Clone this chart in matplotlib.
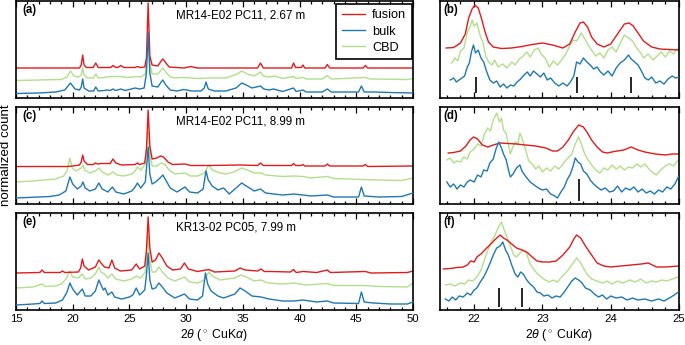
import matplotlib
matplotlib.use("Agg")
import matplotlib.pyplot as plt
from matplotlib.ticker import MultipleLocator

plt.rcParams['font.family'] = ['Liberation Sans', 'DejaVu Sans']
plt.rcParams['mathtext.fontset'] = 'custom'
plt.rcParams['mathtext.rm'] = 'Liberation Sans'
plt.rcParams['mathtext.it'] = 'Liberation Sans:italic'

# ---------------- data (2theta in degrees, normalized count) ----------------
series_names = ['fusion', 'bulk', 'CBD']
sample_titles = ['MR14-E02 PC11, 2.67 m', 'MR14-E02 PC11, 8.99 m', 'KR13-02 PC05, 7.99 m']
left_labels = ['(a)', '(c)', '(e)']
right_labels = ['(b)', '(d)', '(f)']

a_fusion = [(15,30),(20.6,30),(20.75,33),(20.88,43),(21.0,33),(21.2,30.5),(21.8,30.5),(22.03,35),(22.25,30.5),
            (23.35,30.5),(23.55,32.5),(23.8,30.5),(24.05,31),(24.25,32.5),(24.5,30.5),(25.5,30.5),(25.7,31.5),
            (25.95,30.5),(26.35,31),(26.5,40),(26.65,95),(26.8,42),(27.0,33),(27.5,32),(27.8,37),(27.95,39),
            (28.15,36),(28.5,31),(29.8,30),(30.4,31.5),(31.0,30),(36.3,30),(36.55,35),(36.8,30),(39.3,30),
            (39.47,35),(39.65,30.5),(40.15,30.5),(40.3,33),(40.45,30),(42.25,30),(42.45,33.5),(42.65,30),
            (45.6,30),(45.8,32.5),(46.0,30),(50,30)]
a_bulk = [(15,4.5),(17,5),(18.5,6),(19.3,8),(19.8,15),(20.2,9),(20.6,8),(20.75,11),(20.88,19),(21.0,10),(21.4,7),
          (21.85,7),(22.03,11),(22.25,7),(22.8,7.5),(23.0,8),(23.3,7.5),(23.55,9),(23.8,7.5),(24.25,9),(24.6,7.5),
          (25.0,8.5),(25.5,10),(25.9,9),(26.3,10),(26.5,25),(26.65,66),(26.8,25),(27.0,12),(27.5,11),(27.8,16),
          (27.95,18),(28.2,13),(28.6,8),(29.2,7),(29.8,8.5),(30.5,7),(31.3,7),(31.6,10),(31.75,16),(31.95,9),
          (32.5,7),(33.5,7),(34.4,10),(34.9,15),(35.3,13),(35.8,10),(36.55,12),(36.85,9),(37.3,8),(37.7,9),
          (38.5,6.5),(39.47,10),(39.7,6.5),(40.3,8),(40.6,6),(42.0,6),(42.45,9),(42.8,6),(45.2,6),(45.45,12),
          (45.7,6),(46.5,6),(48,5.5),(50,5)]
a_cbd = [(15,17.5),(17,18),(19.0,18.5),(19.5,21),(19.8,27),(20.1,22),(20.5,21),(20.75,23),(20.88,30),(21.0,23),
         (21.3,20),(21.85,20),(22.03,24),(22.25,20),(22.8,20.5),(23.0,21),(23.55,21.5),(24.25,21.5),(24.8,20.5),
         (25.3,21),(25.6,21.5),(26.0,21),(26.4,24),(26.55,45),(26.65,62),(26.8,35),(27.0,24),(27.5,24),(27.8,28),
         (27.95,30),(28.2,26),(28.6,21),(29.0,20),(29.7,20.5),(30.5,20),(31.0,19.5),(32.0,20),(33.5,20),(34.5,24),
         (34.9,27),(35.4,24),(36.0,22),(36.55,26),(36.8,22),(37.3,21),(37.8,22),(38.5,19.5),(39.47,21.5),
         (39.7,19.5),(40.3,20.5),(40.6,19),(42.0,19),(42.45,22.5),(42.8,19),(45.8,20.5),(46.2,19),(49.5,18.5),
         (50,19.5)]

c_fusion = [(15,37.5),(19.5,37.5),(20.0,38),(20.6,39),(20.75,42),(20.88,49),(21.0,43),(21.3,39.5),(21.8,39.5),
            (22.0,41),(22.2,40),(22.5,40.5),(23.3,40.5),(23.55,45),(23.8,41),(24.3,39),(25.5,39.5),(25.7,41),
            (25.9,39.5),(26.35,41),(26.5,55),(26.65,94),(26.8,58),(27.0,45),(27.4,46),(27.75,48),(28.0,47),
            (28.4,42),(28.8,39.5),(29.9,40),(30.4,38.5),(32,38.5),(34.8,39),(36.3,38.5),(36.55,41),(36.8,38.5),
            (39.3,38.5),(39.47,40.5),(39.65,38.5),(40.15,38.5),(40.3,39.5),(40.45,38),(42.25,38),(42.45,40),
            (42.65,38),(45.6,38),(45.8,39.5),(46.0,37.5),(50,38)]
c_bulk = [(15,6),(16,6.5),(17,7),(18,7.5),(18.8,9),(19.4,13),(19.75,27),(20.0,20),(20.4,15),(20.75,18),(20.9,22),
          (21.1,16),(21.5,13),(22.0,15),(22.3,21),(22.6,15),(23.1,12),(23.5,17),(23.8,12),(24.5,10),(25.2,13),
          (25.5,17),(25.7,21),(26.0,16),(26.4,22),(26.55,42),(26.65,57),(26.8,30),(27.0,20),(27.3,22),(27.7,26),
          (27.95,29),(28.2,24),(28.6,16),(29.2,12),(29.9,17),(30.3,12),(31.0,11),(31.5,15),(31.75,33),(31.95,24),
          (32.3,18),(32.8,14),(33.3,16),(33.8,10),(34.4,16),(34.9,21),(35.3,18),(36.0,13),(36.55,15),(37.0,11),
          (38.5,9),(39.5,10),(40.3,9),(41,8),(42.45,9),(43,7),(45.2,7),(45.45,17),(45.7,8),(47,7),(49,7.5),
          (50,11)]
c_cbd = [(15,22),(16.5,23),(17.5,24),(18.5,25),(19.2,28),(19.5,33),(19.75,46),(19.95,36),(20.3,33),(20.75,36),
         (20.9,39),(21.05,34),(21.5,31),(22.0,33),(22.3,36),(22.6,32),(23.1,29),(23.55,32),(23.9,29),(24.5,28),
         (25.2,30),(25.5,33),(25.7,37),(26.0,34),(26.4,40),(26.55,60),(26.65,72),(26.8,50),(27.0,38),(27.4,38),
         (27.8,41),(28.1,40),(28.5,34),(29.0,30),(29.9,31),(30.4,28),(31.0,28),(31.6,31),(32.0,39),(32.3,34),
         (33.0,31),(33.5,30),(34.2,32),(34.9,36),(35.4,34),(36.0,31),(36.6,31),(37.0,29),(38.5,27.5),(39.5,28),
         (40.3,27.5),(41,26),(42.45,27.5),(43,25.5),(45.5,24.5),(47,24),(49,23.5),(50,26)]

e_fusion = [(15,37),(17.1,37.5),(17.3,40),(17.5,37.5),(18.9,37.5),(19.1,39),(19.3,37.5),(20.5,38),(20.7,42),
            (20.85,51),(21.0,44),(21.4,40),(22.0,43),(22.3,50),(22.5,47),(22.8,43),(23.2,42),(23.45,50),(23.7,42),
            (24.2,39),(25.2,40),(25.6,46),(25.9,41),(26.35,44),(26.5,60),(26.65,93),(26.8,62),(27.0,48),(27.3,50),
            (27.6,57),(27.9,52),(28.3,44),(28.8,40),(29.5,41),(29.85,47),(30.2,41),(31,38.5),(32,40.5),(32.5,38),
            (34.3,39),(34.75,42),(35.2,40),(36.3,39),(36.6,41),(36.9,38.5),(37.5,38.5),(39.2,38),(39.47,40.5),
            (39.7,37.5),(40.3,38.5),(41.5,37.5),(42.45,40),(42.7,37.5),(45.8,38.5),(46.3,37),(49.5,37.5),(50,39)]
e_bulk = [(15,5),(16.5,6),(17.1,6.5),(17.3,9),(17.5,6.5),(18.5,7),(19.1,10),(19.5,18),(19.75,27),(20.0,21),
          (20.4,15),(20.85,21),(21.1,14),(21.6,14),(22.0,19),(22.3,30),(22.5,25),(22.7,20),(22.85,22),(23.1,15),
          (23.45,18),(23.7,13),(24.3,11),(25.0,13),(25.3,15),(25.6,22),(25.9,15),(26.35,20),(26.5,35),(26.65,57),
          (26.8,30),(27.0,21),(27.3,22),(27.6,27),(27.9,23),(28.3,17),(29.0,12),(29.85,16),(30.3,11),(31.0,10),
          (31.45,14),(31.7,37),(31.9,26),(32.2,19),(32.8,14),(33.3,12),(34.3,16),(34.75,22),(35.2,19),(35.8,14),
          (36.6,13),(37.3,11),(38.5,9),(39.5,9),(40.3,10),(41.5,8),(42.45,9),(43,7),(45.2,6.5),(45.45,18),
          (45.7,8),(46.5,7),(48,6),(49.5,6),(50,8)]
e_cbd = [(15,22),(16.5,23),(17.3,26),(17.6,23.5),(18.5,24),(19.0,26),(19.4,31),(19.75,39),(20.0,33),(20.5,32),
         (20.85,36),(21.1,31),(21.6,32),(22.0,36),(22.3,43),(22.5,38),(22.8,36),(23.1,32),(23.45,36),(23.8,31),
         (24.5,29),(25.2,31),(25.6,34),(26.0,32),(26.4,38),(26.55,58),(26.65,75),(26.8,50),(27.0,38),(27.3,38),
         (27.6,43),(27.9,38),(28.4,32),(29.0,29),(29.85,33),(30.3,28),(31.0,27),(31.6,30),(32.0,38),(32.3,34),
         (33.0,30),(34.3,32),(34.8,35),(35.3,33),(36.0,29),(36.6,30),(37.2,27),(38.5,26),(39.5,27),(40.5,25),
         (42.45,26.5),(43,24.5),(45.8,24.5),(47,23.5),(49.5,23),(50,27)]

b_fusion = [(21.59,50),(21.7,50.5),(21.8,55),(21.87,64),(21.92,80),(21.97,89),(22.01,93),(22.06,90),(22.11,79),
            (22.16,66),(22.21,56),(22.28,51),(22.4,49.5),(22.55,50),(22.7,51.5),(22.85,53.5),(23.0,55),(23.15,53),
            (23.3,50),(23.4,54),(23.48,66),(23.55,75),(23.6,76),(23.66,71),(23.72,61),(23.8,54),(23.9,51),(24.0,54),
            (24.1,64),(24.2,74),(24.27,75),(24.33,72),(24.4,65),(24.48,57),(24.6,51),(24.72,49),(24.85,48.5),(25.0,48)]
b_bulk = [(21.65,18),(21.7,20),(21.74,16),(21.8,19),(21.86,22),(21.9,31),(21.93,35),(21.96,46),(21.99,53),(22.02,45),
          (22.06,48),(22.1,40),(22.14,36),(22.18,27),(22.23,18),(22.28,15),(22.33,17),(22.38,11),(22.43,14),
          (22.48,10),(22.53,13),(22.58,12),(22.63,16),(22.68,19),(22.73,23),(22.78,26),(22.82,22),(22.87,27),
          (22.92,24),(22.97,21),(23.02,25),(23.07,18),(23.12,20),(23.18,15),(23.24,12),(23.3,15),(23.36,12),
          (23.41,16),(23.46,22),(23.5,36),(23.55,34),(23.6,40),(23.65,36),(23.7,33),(23.75,29),(23.8,31),(23.85,26),
          (23.9,23),(23.96,27),(24.02,22),(24.08,30),(24.14,35),(24.2,38),(24.26,43),(24.3,39),(24.35,36),(24.4,33),
          (24.45,27),(24.5,20),(24.55,18),(24.6,21),(24.66,15),(24.72,17),(24.78,14),(24.84,19),(24.9,22),(24.95,20),
          (25.0,21)]
b_cbd = [(21.67,35),(21.72,40),(21.76,37),(21.8,47),(21.85,50),(21.9,66),(21.95,73),(21.97,78),(22.0,72),(22.04,75),
         (22.09,62),(22.13,55),(22.17,42),(22.21,36),(22.26,33),(22.3,38),(22.35,31),(22.42,34),(22.48,30),(22.55,36),
         (22.6,33),(22.66,39),(22.72,42),(22.77,46),(22.82,41),(22.88,48),(22.94,50),(22.98,44),(23.04,40),(23.1,31),
         (23.16,37),(23.22,33),(23.28,38),(23.34,44),(23.4,52),(23.45,58),(23.5,57),(23.57,65),(23.62,59),(23.68,52),
         (23.73,47),(23.78,42),(23.84,45),(23.9,40),(23.96,48),(24.02,51),(24.08,46),(24.14,55),(24.2,63),(24.26,60),
         (24.32,57),(24.38,50),(24.44,45),(24.48,40),(24.55,44),(24.62,38),(24.68,42),(24.74,46),(24.8,41),(24.86,47),
         (24.92,44),(24.97,49),(25.0,47)]

d_fusion = [(21.62,51),(21.7,51.5),(21.8,53),(21.88,58),(21.94,64),(21.99,67),(22.05,65),(22.12,59),(22.2,57),
            (22.28,59),(22.38,61),(22.5,60.5),(22.62,60),(22.75,59),(22.9,58),(23.05,56),(23.15,53),(23.22,53),
            (23.3,57),(23.38,64),(23.45,72),(23.53,79),(23.6,77),(23.66,71),(23.72,64),(23.8,57),(23.88,52),(23.95,51),
            (24.05,52.5),(24.19,54),(24.3,57),(24.4,54),(24.5,52),(24.65,50),(24.8,49),(24.9,50),(25.0,50)]
d_bulk = [(21.6,22),(21.65,17),(21.7,20),(21.75,15),(21.8,19),(21.85,17),(21.9,22),(21.94,24),(22.0,22),(22.05,29),
          (22.1,27),(22.14,34),(22.19,33),(22.23,41),(22.28,45),(22.32,55),(22.36,62),(22.4,56),(22.43,50),(22.47,44),
          (22.5,35),(22.53,27),(22.57,30),(22.62,36),(22.67,39),(22.7,33),(22.75,28),(22.82,22),(22.88,19),(22.94,16),
          (23.0,14),(23.06,15),(23.12,10),(23.18,8),(23.22,6),(23.27,12),(23.32,17),(23.36,24),(23.41,30),(23.45,38),
          (23.48,46),(23.52,42),(23.56,40),(23.6,33),(23.65,30),(23.7,24),(23.75,20),(23.8,17),(23.86,14),(23.92,16),
          (23.98,12),(24.04,13),(24.1,18),(24.16,12),(24.22,16),(24.28,14),(24.34,17),(24.4,12),(24.46,15),(24.52,11),
          (24.58,13),(24.64,10),(24.7,14),(24.76,12),(24.82,17),(24.88,15),(24.94,20),(24.99,27)]
d_cbd = [(21.6,44),(21.65,46),(21.7,41),(21.75,43),(21.8,42),(21.85,47),(21.9,45),(21.94,52),(22.0,55),(22.05,60),
         (22.1,58),(22.15,70),(22.2,76),(22.24,73),(22.28,84),(22.33,91),(22.37,82),(22.4,86),(22.43,74),(22.47,70),
         (22.5,60),(22.53,50),(22.56,56),(22.6,62),(22.64,60),(22.67,71),(22.71,64),(22.75,55),(22.8,43),(22.85,40),
         (22.9,35),(22.95,38),(23.0,32),(23.06,36),(23.12,33),(23.18,38),(23.24,35),(23.3,40),(23.36,45),(23.43,50),
         (23.48,60),(23.53,67),(23.57,60),(23.62,50),(23.67,44),(23.72,39),(23.78,34),(23.84,31),(23.9,36),(23.96,34),
         (24.02,39),(24.08,35),(24.14,38),(24.2,34),(24.26,37),(24.32,36),(24.38,40),(24.44,37),(24.5,40),(24.56,35),
         (24.62,31),(24.67,29),(24.73,34),(24.8,38),(24.86,40),(24.92,38),(24.99,44)]

f_fusion = [(21.55,41),(21.65,41.5),(21.75,42.5),(21.84,43),(21.9,45),(21.95,49),(22.0,48),(22.04,53),(22.1,56),
            (22.17,61),(22.23,65),(22.3,70),(22.38,75),(22.43,72),(22.48,70),(22.55,66),(22.62,62),(22.7,60),
            (22.77,58),(22.85,53),(22.92,49),(23.0,48),(23.1,48),(23.2,49),(23.3,55),(23.4,63),(23.46,71),(23.5,75),
            (23.56,72),(23.63,64),(23.72,55),(23.8,47),(23.9,44),(24.0,43),(24.15,44),(24.3,45),(24.45,46),(24.55,47),
            (24.67,43),(24.8,43),(24.9,43.5),(25.0,44)]
f_bulk = [(21.58,11),(21.63,9),(21.68,13),(21.73,10),(21.78,14),(21.84,13),(21.9,17),(21.95,15),(22.0,20),(22.04,22),
          (22.09,28),(22.14,33),(22.19,40),(22.24,48),(22.28,55),(22.33,62),(22.38,64),(22.42,68),(22.46,60),(22.5,55),
          (22.55,45),(22.6,36),(22.64,33),(22.68,38),(22.72,36),(22.77,30),(22.82,26),(22.87,23),(22.92,18),(22.97,17),
          (23.02,14),(23.08,15),(23.14,12),(23.2,14),(23.26,13),(23.32,18),(23.38,24),(23.43,29),(23.48,32),(23.53,30),
          (23.58,27),(23.63,22),(23.7,20),(23.76,16),(23.82,13),(23.88,15),(23.94,11),(24.0,14),(24.08,12),(24.16,13),
          (24.24,10),(24.32,12),(24.4,10),(24.5,11),(24.6,9),(24.7,11),(24.78,9),(24.86,12),(24.93,15),(24.99,18)]
f_cbd = [(21.58,25),(21.65,26),(21.72,24),(21.8,27),(21.86,26),(21.92,30),(21.98,29),(22.04,33),(22.1,40),(22.15,50),
         (22.2,60),(22.25,68),(22.3,74),(22.35,82),(22.4,88),(22.44,80),(22.48,73),(22.53,64),(22.58,55),(22.62,53),
         (22.67,57),(22.72,60),(22.77,56),(22.82,46),(22.88,40),(22.93,36),(22.98,33),(23.04,30),(23.1,28),(23.16,30),
         (23.22,28),(23.28,33),(23.34,37),(23.4,42),(23.46,48),(23.5,52),(23.55,48),(23.6,42),(23.66,35),(23.72,31),
         (23.8,29),(23.88,27),(23.95,29),(24.02,26),(24.1,29),(24.18,27),(24.28,30),(24.36,28),(24.44,31),(24.52,27),
         (24.6,29),(24.67,28),(24.75,30),(24.82,29),(24.9,31),(24.99,33)]

# reference peak markers in zoomed panels
b_marks = [22.03, 23.51, 24.30]
d_marks = [23.54]
f_marks = [22.37, 22.70]

# ---------------- figure ----------------
colors = {'fusion': '#e31a1c', 'bulk': '#1f78b4', 'CBD': '#b2df8a'}
zorders = {'fusion': 2, 'bulk': 3, 'CBD': 1}
W, H = 685, 345
fig = plt.figure(figsize=(W / 100, H / 100), dpi=100)

rows_px = [(1, 98), (107, 204), (213, 310)]
left_px = (16, 413)
right_px = (440, 679)

def add_ax(xpx, ypx):
    return fig.add_axes([xpx[0] / W, 1 - ypx[1] / H, (xpx[1] - xpx[0]) / W, (ypx[1] - ypx[0]) / H])

left_data = [(a_fusion, a_bulk, a_cbd), (c_fusion, c_bulk, c_cbd), (e_fusion, e_bulk, e_cbd)]
right_data = [(b_fusion, b_bulk, b_cbd), (d_fusion, d_bulk, d_cbd), (f_fusion, f_bulk, f_cbd)]
marks = [b_marks, d_marks, f_marks]
mark_span = [(5, 21), (3, 25), (3, 22)]

FS_TICK = 8.2
FS_TITLE = 8.4
FS_PANEL = 8.3
FS_LEG = 9.2
FS_XLAB = 8.8
FS_YLAB = 9.6
xlab = r'2$\theta$ ($^\circ$ CuK$\alpha$)'

def style(ax, bottom, major, minor):
    ax.set_yticks([])
    ax.xaxis.set_major_locator(MultipleLocator(major))
    ax.xaxis.set_minor_locator(MultipleLocator(minor))
    ax.tick_params(axis='x', which='both', direction='in', top=True, bottom=True,
                   labelbottom=bottom, labelsize=FS_TICK, pad=3, width=0.9)
    ax.tick_params(axis='x', which='major', length=4)
    ax.tick_params(axis='x', which='minor', length=2.2)
    for s in ax.spines.values():
        s.set_linewidth(1.2)
    ax.set_ylim(0, 97)

for i in range(3):
    axl = add_ax(left_px, rows_px[i])
    lines = []
    for name, dat in zip(series_names, left_data[i]):
        xs, ys = zip(*dat)
        ln, = axl.plot(xs, ys, color=colors[name], lw=1.0, zorder=zorders[name], label=name)
        lines.append(ln)
    axl.set_xlim(15, 50)
    style(axl, i == 2, 5, 1)
    axl.text(0.015, 0.905, left_labels[i], transform=axl.transAxes, fontsize=FS_PANEL, fontweight='bold',
             va='center', ha='left')
    axl.text(0.402, 0.85, sample_titles[i], transform=axl.transAxes, fontsize=FS_TITLE, va='center', ha='left')
    if i == 0:
        leg = axl.legend(handles=lines, loc='upper right', bbox_to_anchor=(0.997, 0.968), borderaxespad=0,
                         fontsize=FS_LEG, frameon=True, fancybox=False, framealpha=1, edgecolor='black',
                         handlelength=1.85, handletextpad=0.55, labelspacing=0.32, borderpad=0.42)
        leg.get_frame().set_linewidth(1.2)
    if i == 2:
        axl.set_xlabel(xlab, fontsize=FS_XLAB, labelpad=2)

    axr = add_ax(right_px, rows_px[i])
    for name, dat in zip(series_names, right_data[i]):
        xs, ys = zip(*dat)
        axr.plot(xs, ys, color=colors[name], lw=1.0, zorder=zorders[name])
    axr.vlines(marks[i], mark_span[i][0], mark_span[i][1], color='black', lw=1.2, zorder=4)
    axr.set_xlim(21.5, 25.0)
    style(axr, i == 2, 1, 0.2)
    axr.text(0.015, 0.905, right_labels[i], transform=axr.transAxes, fontsize=FS_PANEL, fontweight='bold',
             va='center', ha='left')
    if i == 2:
        axr.set_xlabel(xlab, fontsize=FS_XLAB, labelpad=2)

fig.text(6 / W, 1 - 155.5 / H, 'normalized count', rotation=90, fontsize=FS_YLAB, va='center', ha='center')

fig.savefig('out.png', dpi=100)
